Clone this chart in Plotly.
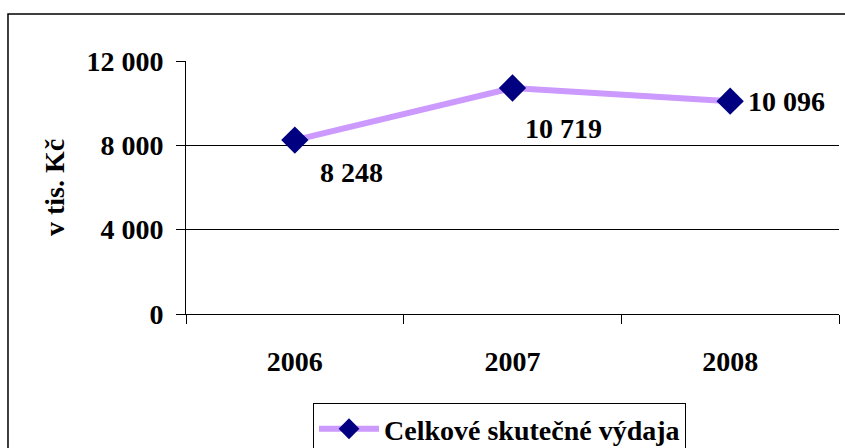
import plotly.graph_objects as go

years = ["2006", "2007", "2008"]
values = [8248, 10719, 10096]
value_labels = ["8 248", "10 719", "10 096"]
y_ticks = [0, 4000, 8000, 12000]
y_tick_labels = ["0", "4 000", "8 000", "12 000"]
series_name = "Celkové skutečné výdaja"
y_title = "v tis. Kč"

# label placement offsets (pixels) relative to each point
label_dx = [23, 10, 16]
label_dy = [-32, -40, 0]

FONT = "Liberation Serif, Times New Roman, DejaVu Serif, serif"
fs = 28

fig = go.Figure()
fig.add_trace(go.Scatter(
    x=years, y=values, mode="lines+markers",
    name=series_name,
    line=dict(color="#CC99FF", width=6),
    marker=dict(symbol="diamond", size=21, color="#000080"),
    cliponaxis=False,
))

# category axis: annotations use the category index
for idx, (yv, lab, dx, dy) in enumerate(zip(values, value_labels, label_dx, label_dy)):
    fig.add_annotation(
        x=idx, y=yv, text=lab, showarrow=False,
        xanchor="left", yanchor="middle", xshift=dx, yshift=dy,
        font=dict(family=FONT, size=fs, color="black", weight="bold"),
    )

fig.update_layout(
    width=845, height=448,
    margin=dict(l=186, r=6, t=61, b=134, autoexpand=False),
    paper_bgcolor="white", plot_bgcolor="white",
    font=dict(family=FONT, size=fs, color="black", weight="bold"),
    showlegend=True,
    legend=dict(
        x=0.1945, y=-0.352, xanchor="left", yanchor="top",
        bordercolor="black", borderwidth=1,
        font=dict(family=FONT, size=fs, color="black", weight="bold"),
        itemsizing="trace", itemwidth=60,
    ),
    xaxis=dict(
        type="category", showgrid=False, showline=True, linecolor="black", linewidth=1,
        ticks="outside", tickson="boundaries", ticklen=9, tickcolor="black",
        ticklabelstandoff=22, range=[-0.5, 2.5], automargin=False,
        tickfont=dict(family=FONT, size=fs, color="black", weight="bold"),
    ),
    yaxis=dict(
        range=[0, 12000], tickvals=y_ticks, ticktext=y_tick_labels,
        showgrid=True, gridcolor="black", gridwidth=1,
        showline=True, linecolor="black", linewidth=1,
        ticks="outside", ticklen=9, tickcolor="black",
        ticklabelstandoff=7, zeroline=False, automargin=False,
        tickfont=dict(family=FONT, size=fs, color="black", weight="bold"),
        title=dict(text=y_title, standoff=13,
                   font=dict(family=FONT, size=fs, color="black", weight="bold")),
    ),
    shapes=[dict(type="rect", xref="paper", yref="paper",
                 x0=-0.2726, x1=1.02, y0=-0.56, y1=1.1858,
                 line=dict(color="black", width=1.5), fillcolor="rgba(0,0,0,0)",
                 layer="below")],
)

fig.write_html("out.html", post_script="document.body.style.margin='0';",
               config={"displayModeBar": False})
